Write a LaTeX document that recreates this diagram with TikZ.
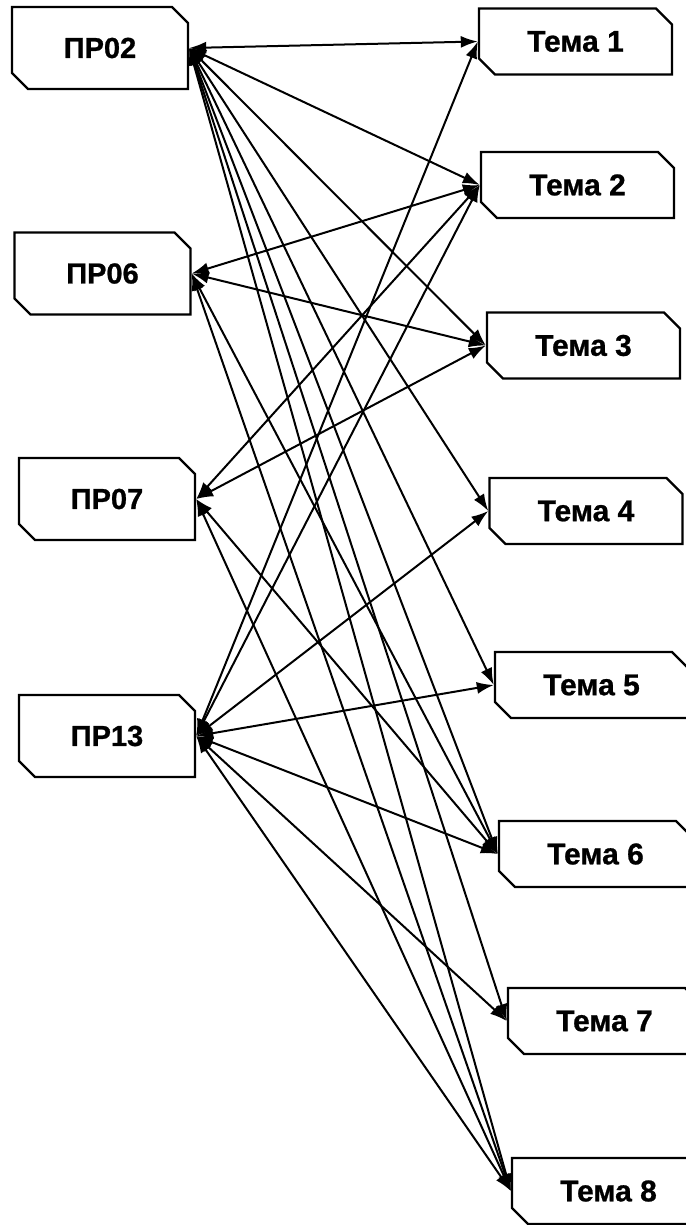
\documentclass[tikz,border=0pt]{standalone}
\usepackage{fontspec}
\setmainfont{Liberation Sans}[BoldFeatures={FakeBold=0.8}]
\usetikzlibrary{shapes.misc,arrows.meta}
\begin{document}
\begin{tikzpicture}[x=1pt,y=-1pt,
  box/.style={chamfered rectangle, chamfered rectangle corners={north east,south west},
    chamfered rectangle xsep=8pt, chamfered rectangle ysep=8pt,
    draw, line width=2.4pt, fill=white, inner sep=0pt},
  prbox/.style={box, minimum width=176pt, minimum height=82pt, font=\fontsize{29}{32}\selectfont\bfseries},
  tbox/.style={box, minimum width=193pt, minimum height=66pt, font=\fontsize{30}{32}\selectfont\bfseries},
  link/.style={{Latex[length=17pt,width=12pt]}-{Latex[length=17pt,width=12pt]}, line width=2pt}]
\useasboundingbox (0,0) rectangle (685,1225);
\node[prbox] (p02) at (100,48) {ПР02};
\node[prbox] (p06) at (102.5,273.5) {ПР06};
\node[prbox] (p07) at (107,499) {ПР07};
\node[prbox] (p13) at (107,736) {ПР13};
\node[tbox] (t1) at (575.5,41.5) {Тема 1};
\node[tbox] (t2) at (577.5,185) {Тема 2};
\node[tbox] (t3) at (583.5,345.5) {Тема 3};
\node[tbox] (t4) at (586,511) {Тема 4};
\node[tbox] (t5) at (591.5,685) {Тема 5};
\node[tbox] (t6) at (595.5,854) {Тема 6};
\node[tbox] (t7) at (604.5,1021) {Тема 7};
\node[tbox] (t8) at (608.5,1191) {Тема 8};
\foreach \t in {t1,t2,t3,t4,t5,t6,t7,t8} \draw[link] (p02.east) -- (\t.west);
\foreach \t in {t2,t3,t6,t8} \draw[link] (p06.east) -- (\t.west);
\foreach \t in {t2,t3,t6,t8} \draw[link] (p07.east) -- (\t.west);
\foreach \t in {t1,t2,t4,t5,t6,t7,t8} \draw[link] (p13.east) -- (\t.west);
\end{tikzpicture}
\end{document}
